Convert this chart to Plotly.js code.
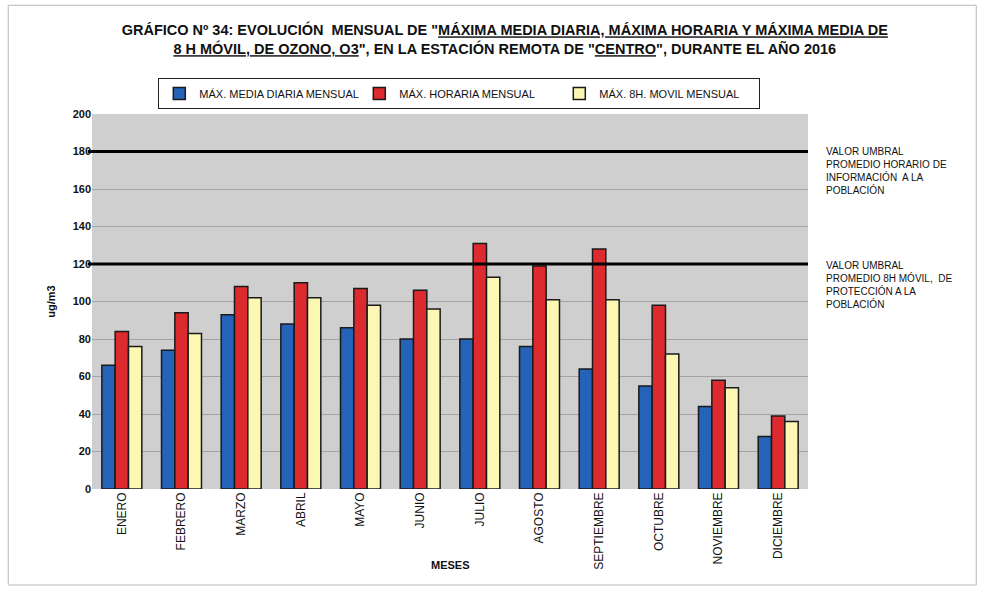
<!DOCTYPE html>
<html>
<head>
<meta charset="utf-8">
<script src="https://cdn.plot.ly/plotly-3.0.1.min.js"></script>
<style>body{margin:0;background:#fff;}#chart{width:984px;height:589px;}</style>
</head>
<body>
<div id="chart"></div>
<script>
const months = ["ENERO","FEBRERO","MARZO","ABRIL","MAYO","JUNIO","JULIO","AGOSTO","SEPTIEMBRE","OCTUBRE","NOVIEMBRE","DICIEMBRE"];
const maxMediaDiaria = [66, 74, 93, 88, 86, 80, 80, 76, 64, 55, 44, 28];
const maxHoraria = [84, 94, 108, 110, 107, 106, 131, 119, 128, 98, 58, 39];
const max8hMovil = [76, 83, 102, 102, 98, 96, 113, 101, 101, 72, 54, 36];
const seriesNames = ["MÁX. MEDIA DIARIA MENSUAL", "MÁX. HORARIA MENSUAL", "MÁX. 8H. MOVIL MENSUAL"];
const thresholds = [180, 120];
const thresholdLabels = [
  "VALOR UMBRAL<br>PROMEDIO HORARIO DE<br>INFORMACIÓN  A LA<br>POBLACIÓN",
  "VALOR UMBRAL<br>PROMEDIO 8H MÓVIL,  DE<br>PROTECCIÓN A LA<br>POBLACIÓN"
];
const yTicks = [0,20,40,60,80,100,120,140,160,180,200];

const colors = ["#2563b8", "#dc2a2e", "#fcf8b4"];
const data = [maxMediaDiaria, maxHoraria, max8hMovil].map((vals, i) => ({
  type: "bar",
  x: months,
  y: vals,
  name: seriesNames[i],
  marker: {color: colors[i], line: {color: "#1a1a1a", width: 1.5}}
}));

const shapes = thresholds.map(t => ({
  type: "line", xref: "paper", yref: "y", x0: -0.006, x1: 1, y0: t, y1: t,
  line: {color: "#000", width: 3}
}));
shapes.push({type:"rect", xref:"paper", yref:"paper", x0:-0.117, x1:1.235, y0:-0.256, y1:1.29,
  line:{color:"#b8b8b8", width:1}, layer:"below"});

const annotations = thresholds.map((t, i) => ({
  xref: "paper", yref: "y", x: 1.022, y: t + (i===0 ? 4 : 3), xanchor: "left", yanchor: "top",
  text: thresholdLabels[i], showarrow: false, align: "left",
  font: {family: "Liberation Sans, Arial", size: 10, color: "#111"}
}));
annotations.push({
  xref: "paper", yref: "paper", x: 0.5, y: -0.203, xanchor: "center", yanchor: "middle",
  text: "<b>MESES</b>", showarrow: false,
  font: {family: "Liberation Sans, Arial", size: 11, color: "#111"}
});

const layout = {
  width: 984, height: 589,
  margin: {l: 92, r: 176, t: 114, b: 100},
  paper_bgcolor: "#ffffff",
  plot_bgcolor: "#cfcfcf",
  title: {
    text: "<b>GRÁFICO Nº 34: EVOLUCIÓN  MENSUAL DE \"<span style='text-decoration:underline'>MÁXIMA MEDIA DIARIA, MÁXIMA HORARIA Y MÁXIMA MEDIA DE</span><br><span style='text-decoration:underline'>8 H MÓVIL, DE OZONO, O3</span>\", EN LA ESTACIÓN REMOTA DE \"<span style='text-decoration:underline'>CENTRO</span>\", DURANTE EL AÑO 2016</b>",
    x: 0.513, xanchor: "center", y: 0.94, yanchor: "top",
    font: {family: "Liberation Sans, Arial", size: 14.5, color: "#111"}
  },
  barmode: "group",
  bargap: 0.33,
  bargroupgap: 0,
  showlegend: true,
  legend: {
    orientation: "h", x: 0.513, xanchor: "center", y: 1.096, yanchor: "top",
    bordercolor: "#222", borderwidth: 1, bgcolor: "#fff",
    font: {family: "Liberation Sans, Arial", size: 11, color: "#111"},
    itemwidth: 30, entrywidth: 155, entrywidthmode: "pixels",
    tracegroupgap: 0
  },
  xaxis: {
    type: "category", tickangle: -90, showgrid: false, showline: false, ticks: "",
    tickfont: {family: "Liberation Sans, Arial", size: 12, color: "#111"}
  },
  yaxis: {
    range: [0, 200], tickvals: yTicks, ticktext: yTicks.map(v => "<b>" + v + "</b>"),
    showgrid: true, gridcolor: "#a4a4a4", gridwidth: 1,
    zeroline: false, showline: false, ticks: "",
    tickfont: {family: "Liberation Sans, Arial", size: 11, color: "#111"},
    title: {text: "<b>ug/m3</b>", standoff: 14, font: {family: "Liberation Sans, Arial", size: 11, color: "#111"}}
  },
  shapes: shapes,
  annotations: annotations
};

Plotly.newPlot("chart", data, layout, {displayModeBar: false, staticPlot: true});
</script>
</body>
</html>
